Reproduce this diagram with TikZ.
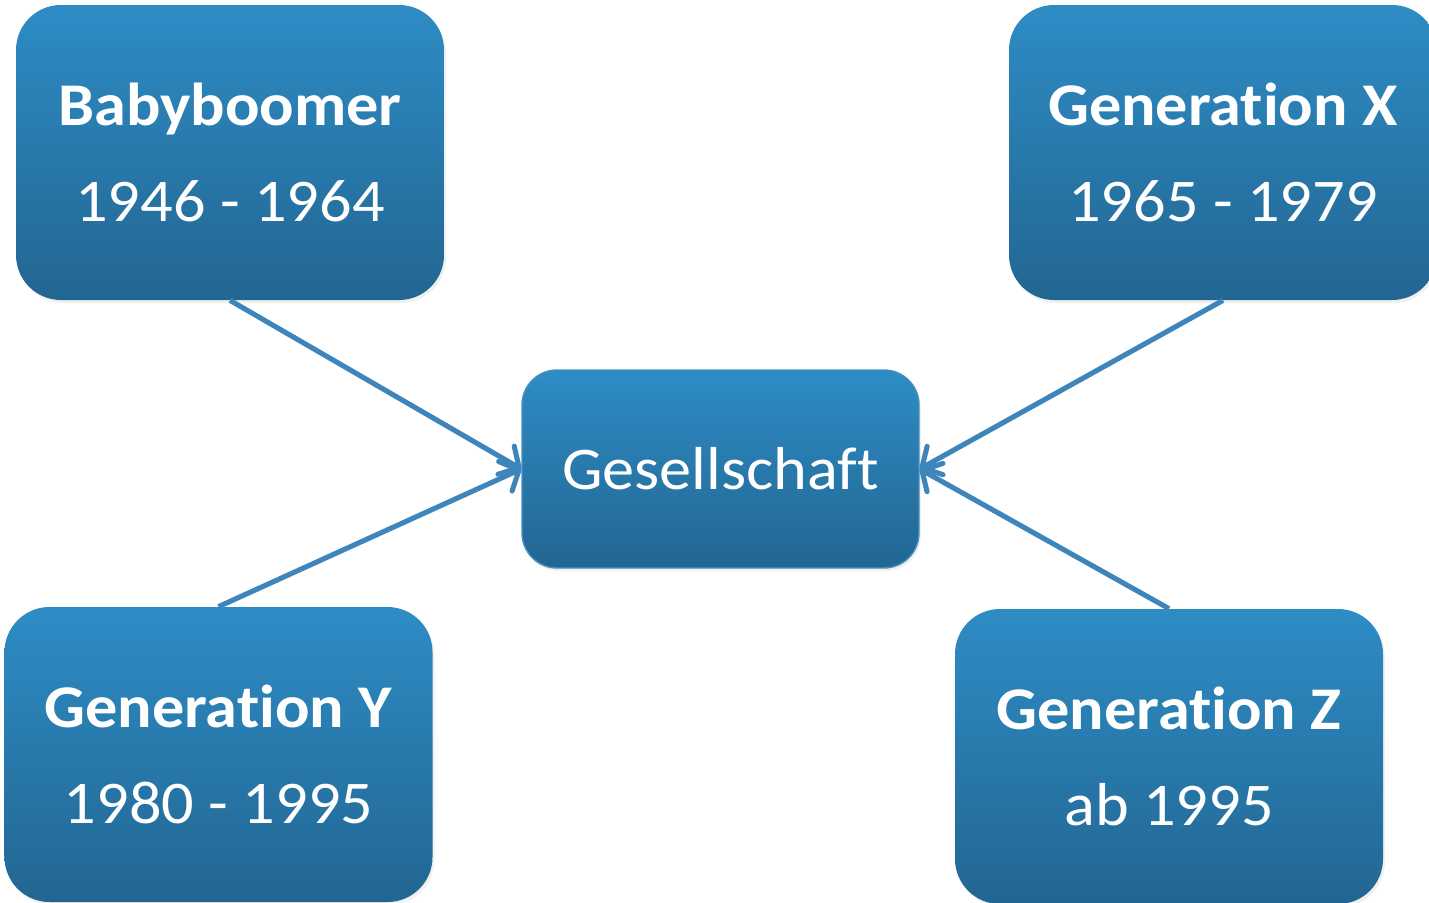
\documentclass[tikz,border=0pt]{standalone}
\usepackage{fontspec}
\setmainfont{Carlito}[Ligatures=NoCommon, FakeStretch=1.06]
\usetikzlibrary{arrows.meta, positioning, shapes, shadows}

\definecolor{boxtop}{RGB}{46,140,197}
\definecolor{boxbottom}{RGB}{34,102,146}
\definecolor{linkblue}{RGB}{62,133,187}
\definecolor{rimblue}{RGB}{70,144,196}

\begin{document}
\begin{tikzpicture}[
    generation/.style={rectangle, rounded corners=0.9cm, top color=boxtop, bottom color=boxbottom, minimum width=8.56cm, minimum height=5.9cm, text=white, align=center, font=\fontsize{34.5}{54.6}\selectfont, drop shadow={opacity=0.12, shadow xshift=0.04cm, shadow yshift=-0.06cm}},
    society/.style={rectangle, rounded corners=0.7cm, top color=boxtop, bottom color=boxbottom, draw=rimblue, line width=0.8pt, minimum width=7.94cm, minimum height=3.96cm, text=white, font=\fontsize{34.5}{54.6}\selectfont, drop shadow={opacity=0.12, shadow xshift=0.04cm, shadow yshift=-0.06cm}},
    link/.style={draw=linkblue, line width=2.9pt, -{Straight Barb[length=0.3cm, width=0.65cm, round]}}
]
\useasboundingbox (0,0) rectangle (28.58,-18.04);
\clip (0,0) rectangle (28.58,-18.04);

% Generations
\node[generation] (boomer) at (4.60,-3.05) {\textbf{Babyboomer}\\1946 - 1964};
\node[generation] (genx) at (24.46,-3.05) {\textbf{Generation X}\\1965 - 1979};
\node[generation] (geny) at (4.37,-15.09) {\textbf{Generation Y}\\1980 - 1995};
\node[generation] (genz) at (23.38,-15.13) {\textbf{Generation Z}\\ab 1995};

% Centre
\node[society] (society) at (14.41,-9.38) {Gesellschaft};

% Links into the centre
\draw[link] (boomer.south) -- (society.west);
\draw[link] (geny.north) -- (society.west);
\draw[link] (genx.south) -- (society.east);
\draw[link] (genz.north) -- (society.east);

\end{tikzpicture}
\end{document}
